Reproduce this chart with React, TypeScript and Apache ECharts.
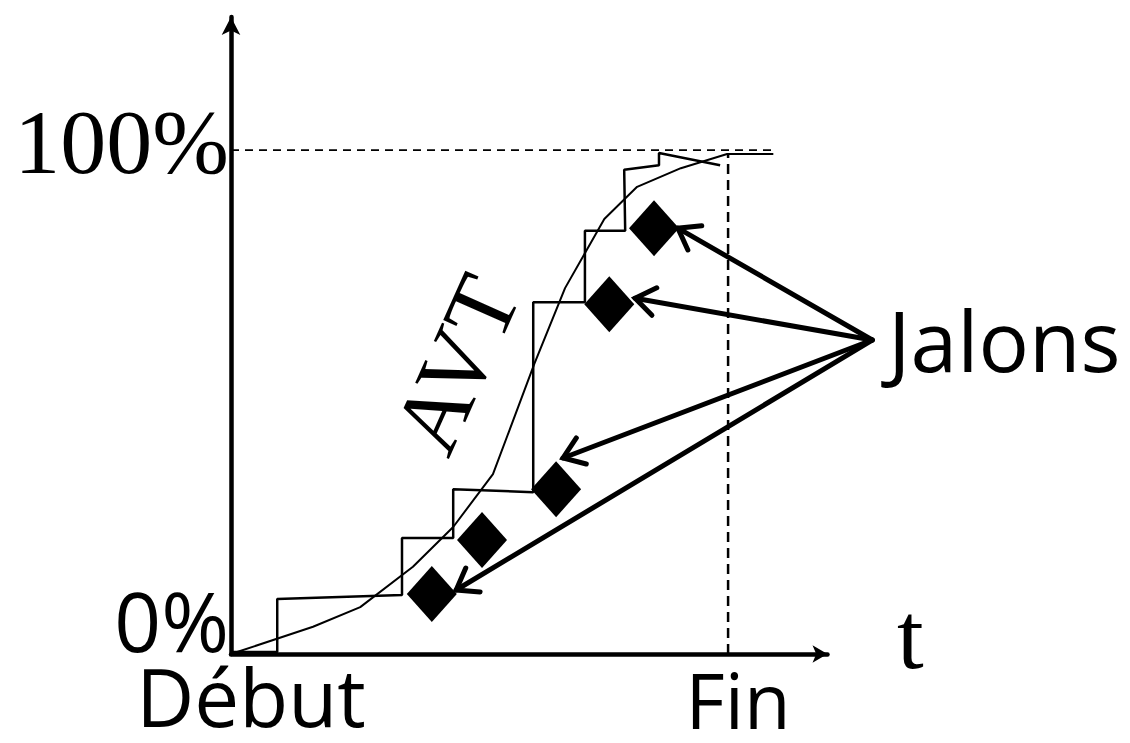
import React, { useEffect, useRef } from "react";
import * as echarts from "echarts";

// Axis ranges (time in % of planned duration, progress in %)
const xMax = 120;
const yMax = 126.4;

// Axis labels
const yLabelValues = [0, 100];
const yLabelTexts = ["0%", "100%"];
const yLabelStyles = ["zero", "full"];
const xLabelValues = [0, 100];
const xLabelTexts = ["Début", "Fin"];
const xLabelStyles = ["start", "end"];

// Step line (real progress)
const stepLine: number[][] = [
  [0, 0.4], [9.3, 0.4], [9.3, 10.9], [34.4, 11.7], [34.4, 23.0], [44.7, 23.0],
  [44.7, 32.7], [60.8, 32.1], [60.8, 69.8], [71.2, 69.8], [71.2, 84.0],
  [79.3, 84.0], [79.1, 96.1], [86.1, 97.0], [86.1, 99.4], [98.4, 97.0],
];

// AVT curve
const avtCurve: number[][] = [
  [0, 0], [16.5, 5.4], [26.0, 9.3], [36.6, 17.3], [44.7, 25.2], [52.7, 35.7],
  [61.0, 57.5], [67.2, 72.6], [75.1, 86.3], [81.7, 92.7], [90.5, 96.4],
  [99.8, 99.2], [109.1, 99.2],
];

// Milestones (jalons)
const jalons: number[][] = [
  [40.4, 11.9], [50.5, 22.6], [65.4, 32.7], [76.1, 69.4], [85.1, 84.5],
];

// Arrows from the "Jalons" label to milestones
const arrowOrigin = [129.0, 62.3];
const arrowTips: number[][] = [
  [89.9, 84.5], [81.3, 70.6], [66.8, 38.9], [45.3, 12.7],
];

// Reference dashed lines
const fullLine: number[][] = [[0, 100], [109.5, 100]];
const endLine: number[][] = [[100, 0], [100, 99.2]];

// Free texts
const jalonsText = "Jalons";
const avtText = "AVT";
const timeText = "t";

export default function App() {
  const ref = useRef<HTMLDivElement>(null);

  useEffect(() => {
    document.body.style.margin = "0";
    const chart = echarts.init(ref.current!, null, { renderer: "svg" });
    const option: any = {
      animation: false,
      backgroundColor: "#ffffff",
      grid: { left: 231, right: 302.5, top: 17, bottom: 89 },
      xAxis: {
        type: "value",
        min: 0,
        max: xMax,
        splitLine: { show: false },
        axisTick: { show: false },
        axisLine: {
          lineStyle: { color: "#000", width: 4.5 },
          symbol: ["none", "arrow"],
          symbolSize: [13, 15],
        },
        axisLabel: {
          customValues: xLabelValues,
          margin: 6,
          formatter: (v: number) => {
            const i = xLabelValues.indexOf(v);
            return i < 0 ? "" : `{${xLabelStyles[i]}|${xLabelTexts[i]}}`;
          },
          rich: {
            start: {
              fontFamily: "Open Sans",
              fontSize: 80,
              lineHeight: 60,
              color: "#000",
              padding: [10, 0, 0, 40],
            },
            end: {
              fontFamily: "Open Sans",
              fontSize: 76,
              lineHeight: 58,
              color: "#000",
              padding: [20, 0, 0, 20],
            },
          },
        },
      },
      yAxis: {
        type: "value",
        min: 0,
        max: yMax,
        splitLine: { show: false },
        axisTick: { show: false },
        axisLine: {
          show: true,
          lineStyle: { color: "#000", width: 4.5 },
          symbol: ["none", "arrow"],
          symbolSize: [14, 18],
        },
        axisLabel: {
          customValues: yLabelValues,
          margin: 2,
          formatter: (v: number) => {
            const i = yLabelValues.indexOf(v);
            return i < 0 ? "" : `{${yLabelStyles[i]}|${yLabelTexts[i]}}`;
          },
          rich: {
            full: {
              fontFamily: "Liberation Serif",
              fontSize: 92,
              lineHeight: 70,
              color: "#000",
              padding: [0, 0, 16, 0],
            },
            zero: {
              fontFamily: "Open Sans",
              fontSize: 82,
              lineHeight: 60,
              color: "#000",
              padding: [0, 0, 68, 0],
            },
          },
        },
      },
      graphic: [
        {
          type: "text",
          x: 888,
          y: 339,
          style: {
            text: jalonsText,
            fontFamily: "Open Sans",
            fontSize: 84,
            fill: "#000",
            align: "left",
            verticalAlign: "middle",
          },
        },
        {
          type: "text",
          x: 456,
          y: 364,
          rotation: (66 * Math.PI) / 180,
          style: {
            text: avtText,
            fontFamily: "Liberation Serif",
            fontSize: 94,
            fill: "#000",
            align: "center",
            verticalAlign: "middle",
          },
        },
        {
          type: "text",
          x: 897,
          y: 635,
          style: {
            text: timeText,
            fontFamily: "Liberation Serif",
            fontSize: 96,
            fill: "#000",
            align: "left",
            verticalAlign: "middle",
          },
        },
      ],
      series: [
        {
          type: "line",
          data: fullLine,
          symbol: "none",
          lineStyle: { color: "#000", width: 1.8, type: [8, 6] },
          z: 2,
        },
        {
          type: "line",
          data: endLine,
          symbol: "none",
          lineStyle: { color: "#000", width: 2.5, type: [10, 6] },
          z: 2,
        },
        {
          type: "line",
          data: stepLine,
          symbol: "none",
          lineStyle: { color: "#000", width: 2.5 },
          z: 3,
        },
        {
          type: "line",
          data: avtCurve,
          symbol: "none",
          lineStyle: { color: "#000", width: 2 },
          z: 3,
        },
        {
          type: "scatter",
          data: jalons,
          symbol: "diamond",
          symbolSize: [50, 56],
          itemStyle: { color: "#000", opacity: 1 },
          z: 5,
        },
        {
          type: "custom",
          data: arrowTips.map((t) => [arrowOrigin[0], arrowOrigin[1], t[0], t[1]]),
          clip: false,
          z: 6,
          renderItem: (params: any, api: any) => {
            const p0 = api.coord([api.value(0), api.value(1)]);
            const p1 = api.coord([api.value(2), api.value(3)]);
            const ang = Math.atan2(p0[1] - p1[1], p0[0] - p1[0]);
            const L = 24;
            const spread = 0.62;
            const a1 = [p1[0] + L * Math.cos(ang + spread), p1[1] + L * Math.sin(ang + spread)];
            const a2 = [p1[0] + L * Math.cos(ang - spread), p1[1] + L * Math.sin(ang - spread)];
            return {
              type: "group",
              children: [
                {
                  type: "line",
                  shape: { x1: p0[0], y1: p0[1], x2: p1[0], y2: p1[1] },
                  style: { stroke: "#000", lineWidth: 5, lineCap: "round" },
                },
                {
                  type: "polyline",
                  shape: { points: [a1, p1, a2] },
                  style: { stroke: "#000", fill: null, lineWidth: 5, lineCap: "round", lineJoin: "miter" },
                },
              ],
            };
          },
        },
      ],
    };
    chart.setOption(option);
    return () => chart.dispose();
  }, []);

  return (
    <div
      ref={ref}
      style={{ position: "fixed", left: 0, top: 0, width: 1130, height: 743, background: "#fff" }}
    />
  );
}
